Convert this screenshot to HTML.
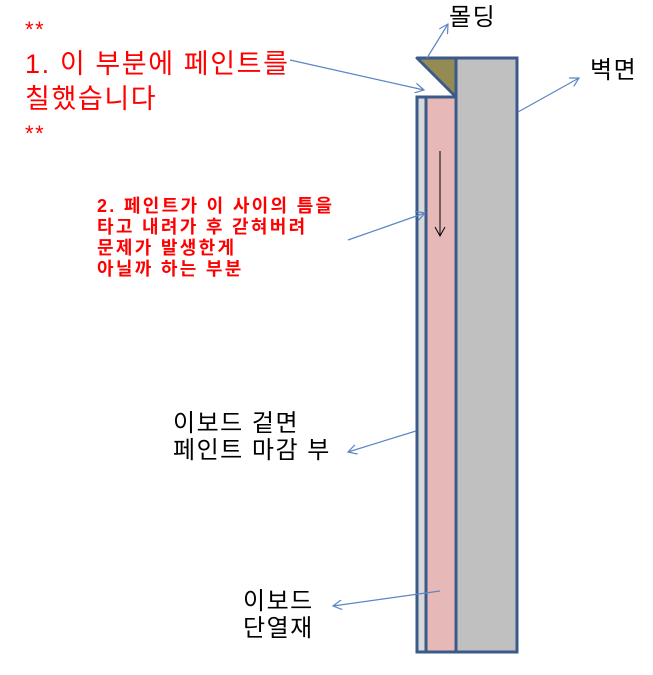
<!DOCTYPE html>
<html><head><meta charset="utf-8"><style>
body{margin:0;background:#fff;width:653px;height:675px;overflow:hidden;position:relative;font-family:"Liberation Sans","Noto Sans CJK KR",sans-serif}
.t{position:absolute;white-space:nowrap}
.r{color:#ff0000;font-size:27px;line-height:35px;letter-spacing:1.6px}
.rb{color:#ff0000;font-size:18px;font-weight:bold;line-height:21px;letter-spacing:2.3px}
.k{color:#000;font-size:24px;line-height:27px;letter-spacing:1.5px}
</style></head><body>
<svg width="653" height="675" style="position:absolute;left:0;top:0">
<defs><marker id="a" markerWidth="10" markerHeight="10" refX="9" refY="5" orient="auto" markerUnits="userSpaceOnUse"><path d="M0,0 L9,5 L0,10" fill="none" stroke="#5b86c4" stroke-width="1.2"/></marker></defs>
<rect x="456" y="58" width="61" height="594" fill="#c0c0c0" stroke="#3a5a8a" stroke-width="3"/>
<rect x="426" y="97" width="30" height="555" fill="#e6b8b7" stroke="#3a5a8a" stroke-width="3"/>
<rect x="417" y="97" width="9" height="555" fill="#d9d9d9" stroke="#3a5a8a" stroke-width="3"/>
<polygon points="417,58 456,58 456,97" fill="#948a54" stroke="#3a5a8a" stroke-width="3" stroke-linejoin="round"/>
<line x1="440" y1="151" x2="440" y2="235" stroke="#000" stroke-width="1"/>
<path d="M435,227 L440,236 L445,227" fill="none" stroke="#000"/>
<g stroke="#5b86c4" stroke-width="1.2" fill="none" marker-end="url(#a)">
<line x1="290" y1="60" x2="424" y2="90"/>
<line x1="427" y1="58" x2="448" y2="24"/>
<line x1="518" y1="112" x2="579" y2="78"/>
<line x1="348" y1="240" x2="425" y2="213"/>
<line x1="416" y1="431" x2="348" y2="452"/>
<line x1="440" y1="591" x2="333" y2="606"/>
</g>
</svg>
<div class="t r" style="left:25px;top:12px;font-size:22px">**</div>
<div class="t r" style="left:25px;top:47px">1. 이 부분에 페인트를</div>
<div class="t r" style="left:25px;top:82px">칠했습니다</div>
<div class="t r" style="left:25px;top:116px;font-size:22px">**</div>
<div class="t rb" style="left:97px;top:196px">2. 페인트가 이 사이의 틈을<br>타고 내려가 후 갇혀버려<br>문제가 발생한게<br>아닐까 하는 부분</div>
<div class="t k" style="left:449px;top:4px">몰딩</div>
<div class="t k" style="left:590px;top:57px">벽면</div>
<div class="t k" style="left:173px;top:410px">이보드 겉면<br>페인트 마감 부</div>
<div class="t k" style="left:243px;top:588px">이보드<br>단열재</div>
</body></html>
